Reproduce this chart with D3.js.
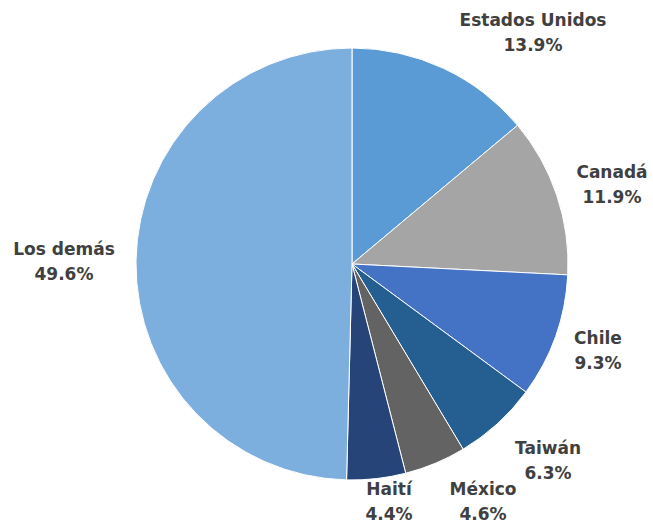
<!DOCTYPE html>
<html>
<head>
<meta charset="utf-8">
<script src="https://cdn.jsdelivr.net/npm/d3@7"></script>
<style>
html,body{margin:0;padding:0;background:#fff;}
svg{display:block;}
text{font-family:"DejaVu Sans","Open Sans",sans-serif;font-weight:700;fill:#404040;}
</style>
</head>
<body>
<svg id="chart" width="653" height="525"></svg>
<script>
const categories = ["Estados Unidos","Canadá","Chile","Taiwán","México","Haití","Los demás"];
const values = [13.9, 11.9, 9.3, 6.3, 4.6, 4.4, 49.6];
const colors = ["#5B9BD5","#A5A5A5","#4472C4","#255E91","#636363","#264478","#7CAFDD"];
const pctLabels = ["13.9%","11.9%","9.3%","6.3%","4.6%","4.4%","49.6%"];

// layout of data labels (centre of the label block)
const labelLayout = {
  "Estados Unidos": [533, 33],
  "Canadá": [612, 185],
  "Chile": [598, 351],
  "Taiwán": [548, 461],
  "México": [483, 502],
  "Haití": [389, 502],
  "Los demás": [64, 262]
};

const width = 653, height = 525;
const cx = 352, cy = 264, R = 216;

const svg = d3.select("#chart");
const data = categories.map((c,i)=>({name:c, value:values[i], color:colors[i], pct:pctLabels[i]}));

const pie = d3.pie().value(d=>d.value).sort(null).startAngle(0).endAngle(2*Math.PI);
const arc = d3.arc().innerRadius(0).outerRadius(R);

const g = svg.append("g").attr("transform",`translate(${cx},${cy})`);
g.selectAll("path").data(pie(data)).enter().append("path")
  .attr("d", arc)
  .attr("fill", d=>d.data.color)
  .attr("stroke","#ffffff")
  .attr("stroke-width",1);

const lg = svg.append("g");
data.forEach(d=>{
  const [x,y] = labelLayout[d.name];
  const t = lg.append("text").attr("text-anchor","middle").attr("font-size","17px");
  t.append("tspan").attr("x",x).attr("y",y-12.5).attr("dy","0.35em").text(d.name);
  t.append("tspan").attr("x",x).attr("y",y+12.5).attr("dy","0.35em").text(d.pct);
});
</script>
</body>
</html>
